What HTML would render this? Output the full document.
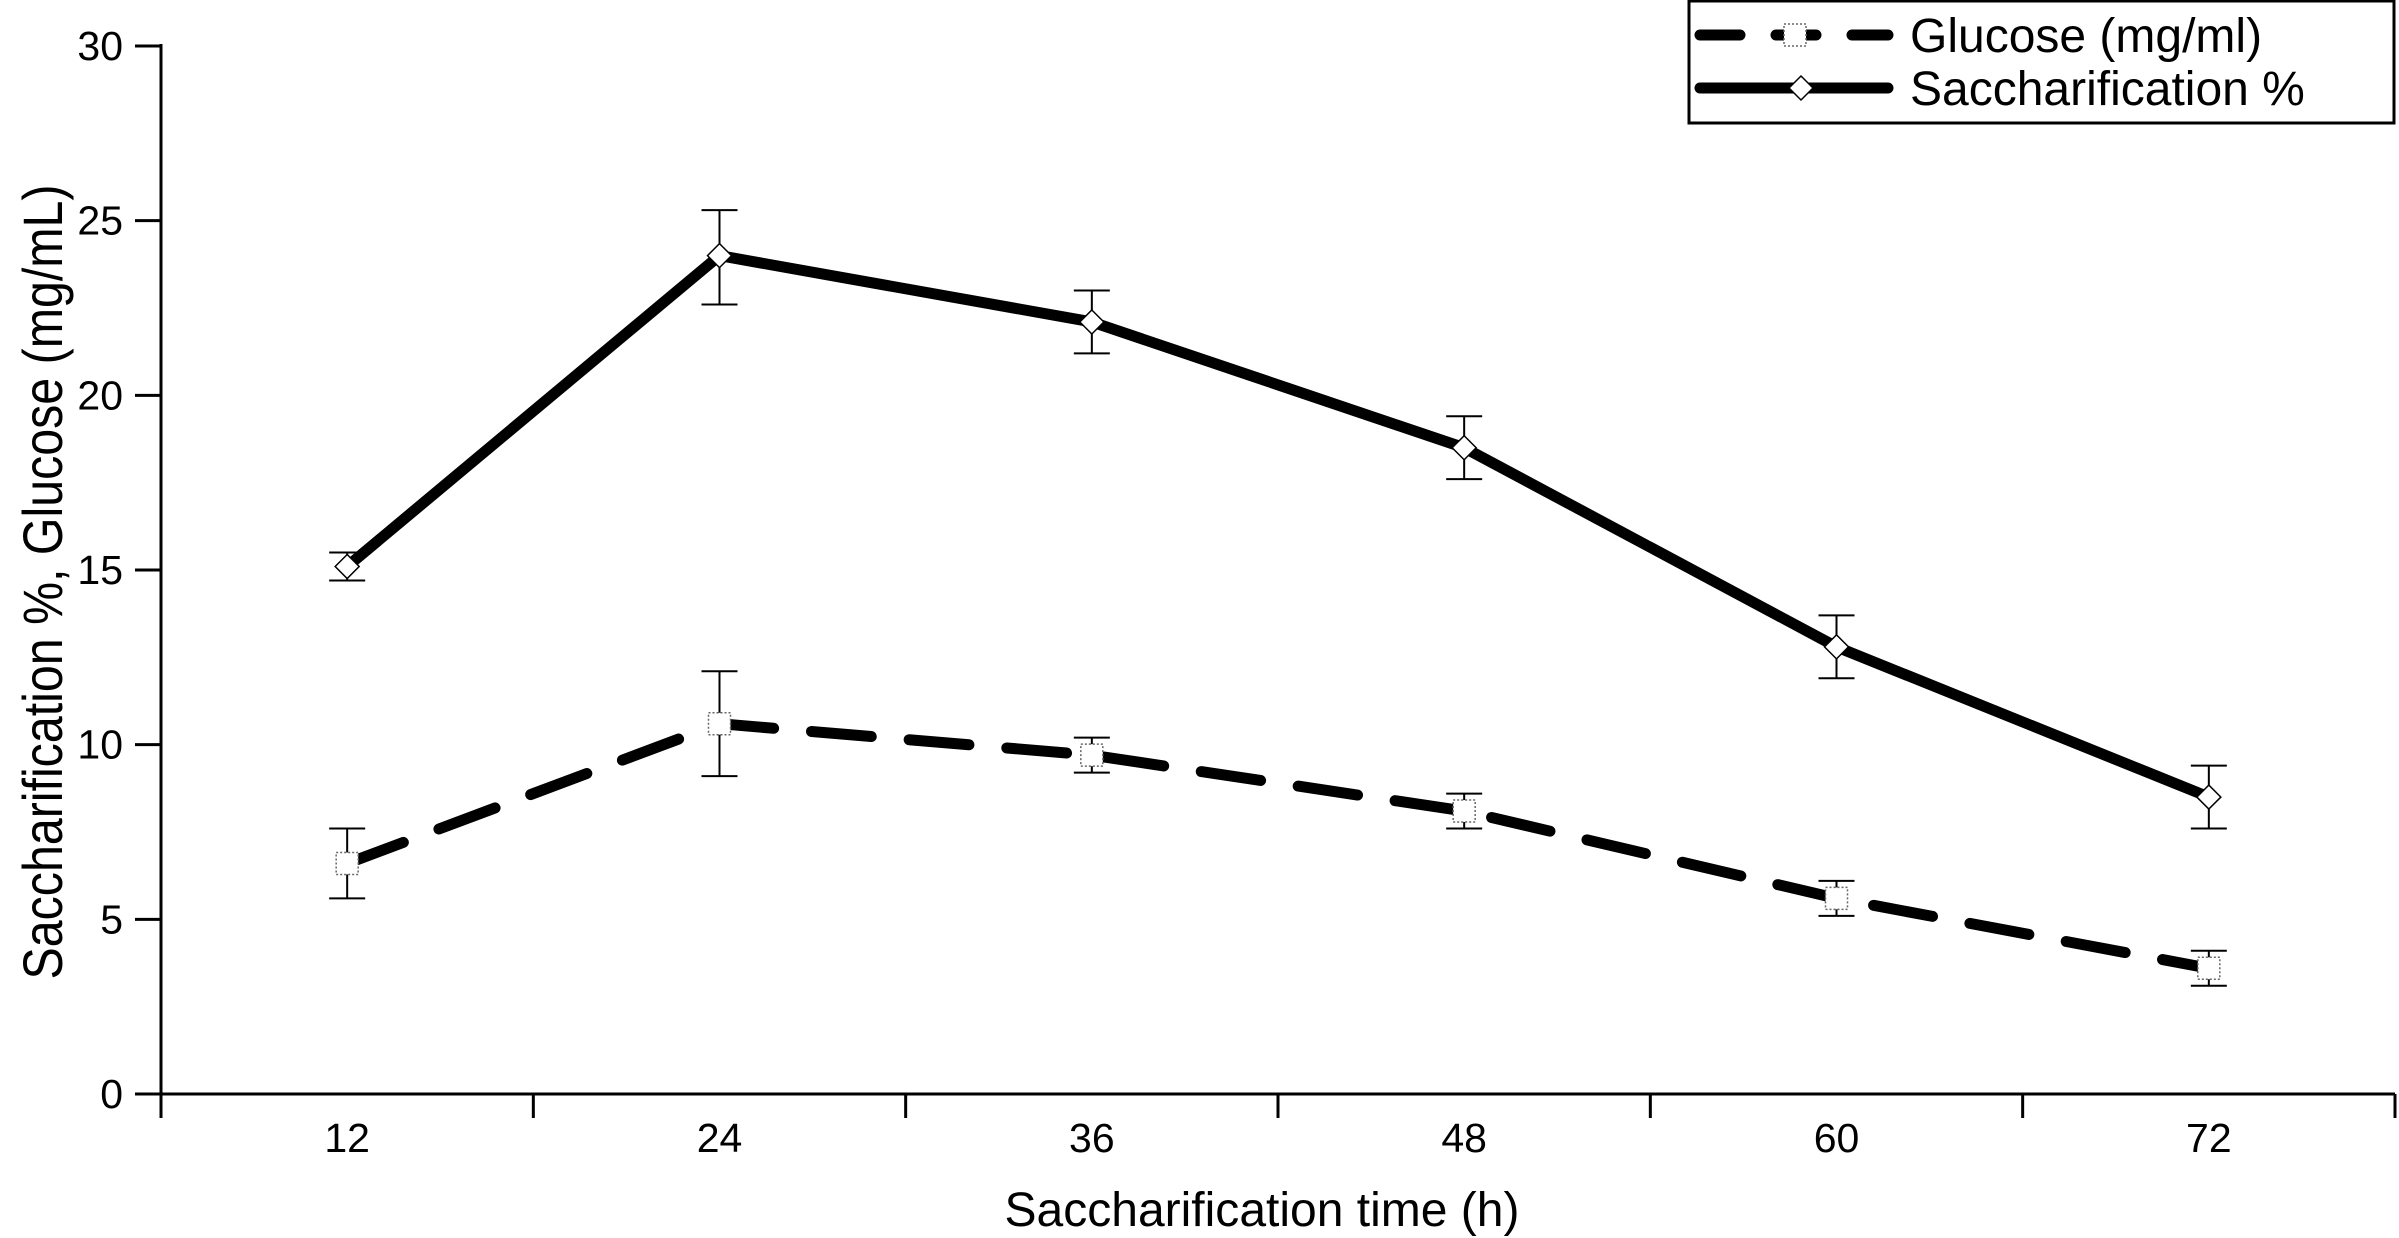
<!DOCTYPE html>
<html><head><meta charset="utf-8"><style>
body{margin:0;background:#fff}
svg{display:block;font-family:"Liberation Sans",Arial,sans-serif}
</style></head><body>
<svg id="chart" width="2399" height="1238" viewBox="0 0 2399 1238" xmlns="http://www.w3.org/2000/svg">
<g id="axes"></g>
<g id="series"></g>
<g>
<rect x="1689" y="1" width="705" height="122" fill="#fff" stroke="#000" stroke-width="3"/>
<g>
<line x1="1700" y1="35" x2="1888" y2="35" stroke="#000" stroke-width="11" stroke-dasharray="40,36" stroke-linecap="round"/>
<rect x="1784" y="24" width="22" height="22" fill="#fff" stroke="#666" stroke-width="1.5" stroke-dasharray="2,2"/>
<text x="1910" y="52" font-size="48">Glucose (mg/ml)</text>
</g>
<g>
<line x1="1700" y1="88" x2="1888" y2="88" stroke="#000" stroke-width="11" stroke-linecap="round"/>
<polygon points="1801,76 1813,88 1801,100 1789,88" fill="#fff" stroke="#000" stroke-width="1.5"/>
<text x="1910" y="105" font-size="48">Saccharification %</text>
</g>
</g>
</svg>
<script>
const categories=["12","24","36","48","60","72"];
const saccharification=[15.1,24.0,22.1,18.5,12.8,8.5];
const saccErrUp=[0.4,1.3,0.9,0.9,0.9,0.9];
const saccErrDown=[0.4,1.4,0.9,0.9,0.9,0.9];
const glucose=[6.6,10.6,9.7,8.1,5.6,3.6];
const glucErr=[1.0,1.5,0.5,0.5,0.5,0.5];
const yTicks=[0,5,10,15,20,25,30];

const NS="http://www.w3.org/2000/svg";
const X0=161,X1=2395,Y0=1094,Y30=46;
const band=(X1-X0)/categories.length;
const xs=i=>X0+band*(i+0.5);
const ys=v=>Y0-(v/30)*(Y0-Y30);
function mk(tag,attrs,parent){const e=document.createElementNS(NS,tag);for(const k in attrs)e.setAttribute(k,attrs[k]);parent.appendChild(e);return e;}
const axes=document.getElementById('axes');
const ser=document.getElementById('series');

let e=mk('line',{x1:X0,y1:Y30-2,x2:X0,y2:Y0+2,stroke:'#000','stroke-width':3},axes);


e=mk('line',{x1:X0,y1:Y0,x2:X1,y2:Y0,stroke:'#000','stroke-width':3},axes);


yTicks.forEach(v=>{
  let t=mk('line',{x1:X0-26,y1:ys(v),x2:X0,y2:ys(v),stroke:'#000','stroke-width':3},axes);
  
  
  let l=mk('text',{x:123,y:ys(v)+14,'font-size':41,'text-anchor':'end'},axes);
  l.textContent=v;
  
  
});
for(let i=0;i<=categories.length;i++){
  let t=mk('line',{x1:X0+band*i,y1:Y0,x2:X0+band*i,y2:Y0+24,stroke:'#000','stroke-width':3},axes);
  
  
}
categories.forEach((c,i)=>{
  let l=mk('text',{x:xs(i),y:1152,'font-size':41,'text-anchor':'middle'},axes);
  l.textContent=c;
  
  
});
let xt=mk('text',{x:(X0+X1)/2-16,y:1226,'font-size':48,'text-anchor':'middle',textLength:515,lengthAdjust:'spacingAndGlyphs'},axes);
xt.textContent='Saccharification time (h)';


let yt=mk('text',{x:0,y:0,'font-size':56,'text-anchor':'middle',textLength:795,lengthAdjust:'spacingAndGlyphs',transform:'translate(62,582) rotate(-90)'},axes);
yt.textContent='Saccharification %, Glucose (mg/mL)';



function err(i,hi,lo,name){
  const g=mk('g',{},ser);
  
  
  const x=xs(i);
  mk('line',{x1:x,y1:ys(hi),x2:x,y2:ys(lo),stroke:'#000','stroke-width':2},g);
  mk('line',{x1:x-18,y1:ys(hi),x2:x+18,y2:ys(hi),stroke:'#000','stroke-width':2},g);
  mk('line',{x1:x-18,y1:ys(lo),x2:x+18,y2:ys(lo),stroke:'#000','stroke-width':2},g);
}
glucose.forEach((v,i)=>err(i,v+glucErr[i],v-glucErr[i],'glucose-error-bar'));
saccharification.forEach((v,i)=>err(i,v+saccErrUp[i],v-saccErrDown[i],'saccharification-error-bar'));

let gl=mk('polyline',{points:glucose.map((v,i)=>xs(i)+','+ys(v)).join(' '),fill:'none',stroke:'#000','stroke-width':11,'stroke-dasharray':'60,38','stroke-linecap':'round'},ser);


let sl=mk('polyline',{points:saccharification.map((v,i)=>xs(i)+','+ys(v)).join(' '),fill:'none',stroke:'#000','stroke-width':11,'stroke-linejoin':'round'},ser);



glucose.forEach((v,i)=>{
  let m=mk('rect',{x:xs(i)-11,y:ys(v)-11,width:22,height:22,fill:'#fff',stroke:'#666','stroke-width':1.5,'stroke-dasharray':'2,2'},ser);
  
  
});
saccharification.forEach((v,i)=>{
  const x=xs(i),y=ys(v);
  let m=mk('polygon',{points:`${x},${y-12} ${x+12},${y} ${x},${y+12} ${x-12},${y}`,fill:'#fff',stroke:'#000','stroke-width':1.5},ser);
  
  
});
</script>
</body></html>
